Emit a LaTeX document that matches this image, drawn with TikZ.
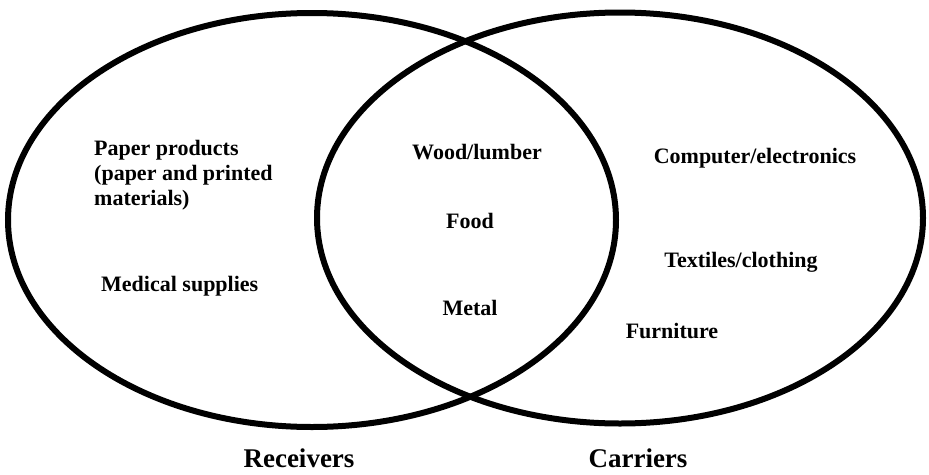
\documentclass[tikz,border=0pt]{standalone}
\usepackage{fontspec}
\setmainfont{Liberation Serif}
\usepackage{tikz}
\usetikzlibrary{positioning,shapes.geometric}

\begin{document}
\begin{tikzpicture}[x=1pt,y=-1pt,
        set/.style={draw=black,ellipse,line width=6pt,inner sep=0pt},
        item/.style={font=\bfseries\fontsize{22}{25}\selectfont,align=left,inner sep=0pt},
        title/.style={font=\bfseries\fontsize{27}{30}\selectfont,inner sep=0pt}]
        \useasboundingbox (0,0) rectangle (929,474);
        \node[set,minimum width=608pt,minimum height=414pt] (recv) at (312,220) {};
        \node[set,minimum width=606pt,minimum height=411pt] (carr) at (620,218) {};
        % receivers only
        \node[item,anchor=west] (paper) at (94,175) {Paper products\\(paper and printed\\materials)};
        \node[item,anchor=west] (med) at (101,286) {Medical supplies};
        % both
        \node[item] (wood) at (477,152) {Wood/lumber};
        \node[item] (food) at (470,221) {Food};
        \node[item] (metal) at (470,308) {Metal};
        % carriers only
        \node[item] (comp) at (755,158) {Computer/electronics};
        \node[item] (text) at (741,262) {Textiles/clothing};
        \node[item] (furn) at (672,331) {Furniture};
        % set names
        \node[title] (recvlab) at (299,458) {Receivers};
        \node[title] (carrlab) at (638,458) {Carriers};
    \end{tikzpicture}
\end{document}
